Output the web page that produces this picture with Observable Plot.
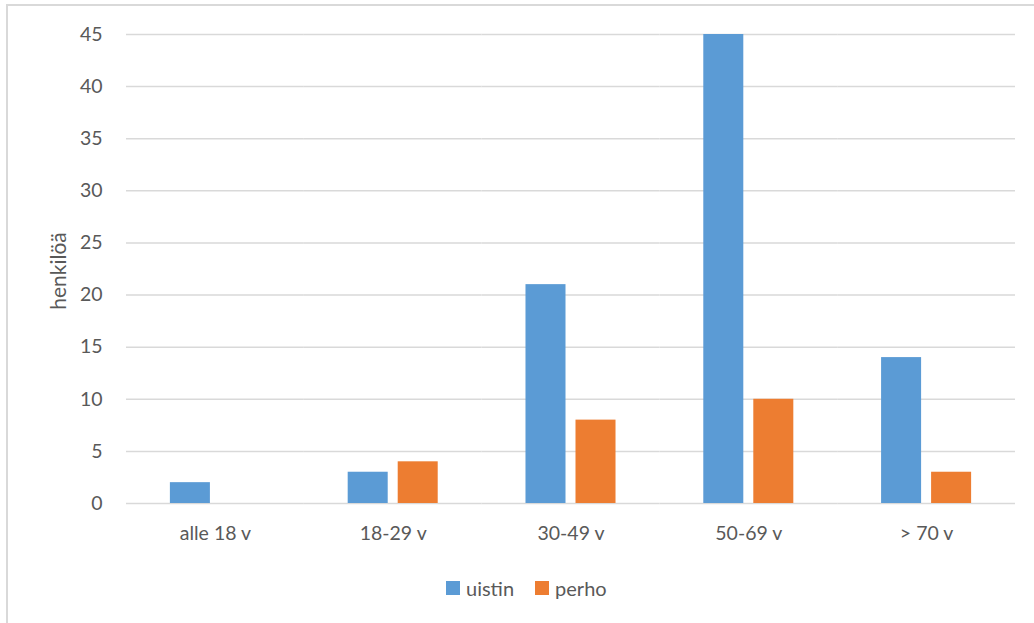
<!DOCTYPE html>
<html>
<head>
<meta charset="utf-8">
<script src="https://cdn.jsdelivr.net/npm/d3@7"></script>
<script src="https://cdn.jsdelivr.net/npm/@observablehq/plot@0.6"></script>
<style>
  html, body { margin: 0; padding: 0; background: #fff; width: 1034px; height: 623px; overflow: hidden; }
  #frame { position: absolute; left: 6px; top: 4px; width: 1200px; height: 800px; border: 2px solid #d9d9d9; box-sizing: border-box; }
  #chart { position: absolute; left: 0; top: 0; }
  #ylabel { position: absolute; left: 57px; top: 271px; transform: translate(-50%, -50%) rotate(-90deg); font-family: Lato, "Open Sans", sans-serif; font-size: 21px; color: #595959; white-space: nowrap; }
  #legend { position: absolute; left: 446px; top: 576px; font-family: Lato, "Open Sans", sans-serif; font-size: 20px; color: #595959; display: flex; align-items: center; height: 24px; }
  .sw { display: inline-block; width: 14px; height: 14px; margin-right: 6px; }
  .item { display: flex; align-items: center; margin-right: 21px; }
</style>
</head>
<body>
<div id="frame"></div>
<div id="chart"></div>
<div id="ylabel">henkilöä</div>
<div id="legend"></div>
<script>
const categories = ["alle 18 v", "18-29 v", "30-49 v", "50-69 v", "> 70 v"];
const series = ["uistin", "perho"];
const colors = ["#5b9bd5", "#ed7d31"];
const uistin = [2, 3, 21, 45, 14];
const perho = [0, 4, 8, 10, 3];
const yTicks = [0, 5, 10, 15, 20, 25, 30, 35, 40, 45];

const data = categories.flatMap((c, i) => [
  {cat: c, s: "uistin", v: uistin[i]},
  {cat: c, s: "perho", v: perho[i]}
]);

const chart = Plot.plot({
  width: 1034,
  height: 560,
  marginLeft: 126,
  marginRight: 19,
  marginTop: 34,
  marginBottom: 57,
  style: {fontFamily: "Lato, 'Open Sans', sans-serif", fontSize: "19.5px", color: "#595959", background: "transparent", overflow: "visible"},
  fx: {domain: categories, paddingInner: 0, paddingOuter: 0, round: false, label: null, tickSize: 0, tickPadding: 23},
  x: {domain: series, paddingInner: 0.2, paddingOuter: 0.8775, round: false, axis: null},
  y: {domain: [0, 45], ticks: yTicks, label: null, tickSize: 0, tickPadding: 24},
  color: {domain: series, range: colors},
  marks: [
    Plot.ruleY(yTicks, {stroke: "#d9d9d9", strokeWidth: 1.5}),
    Plot.barY(data, {fx: "cat", x: "s", y: "v", fill: "s"})
  ]
});
document.getElementById("chart").appendChild(chart);

const legend = document.getElementById("legend");
series.forEach((s, i) => {
  const item = document.createElement("div");
  item.className = "item";
  const sw = document.createElement("span");
  sw.className = "sw";
  sw.style.background = colors[i];
  item.appendChild(sw);
  item.appendChild(document.createTextNode(s));
  legend.appendChild(item);
});
</script>
</body>
</html>
